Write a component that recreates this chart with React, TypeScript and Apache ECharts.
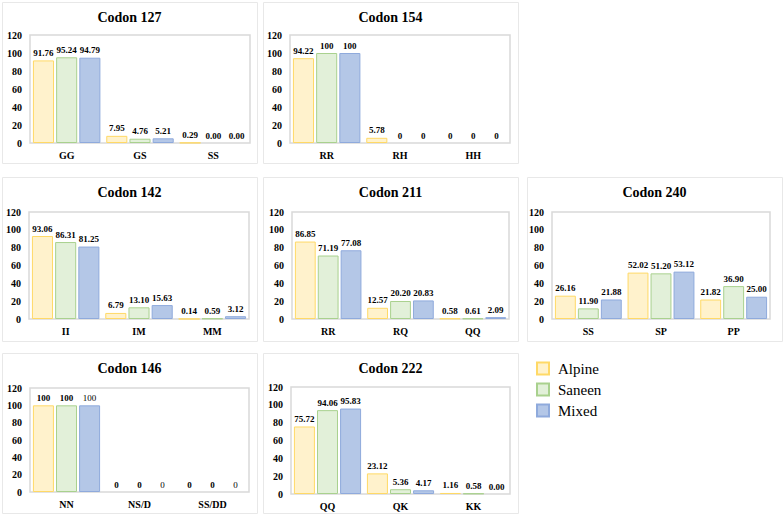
import React, { useEffect, useRef } from "react";
import * as echarts from "echarts";

// ---- data ----
const seriesNames = ["Alpine", "Saneen", "Mixed"];
const yTicks = [0, 20, 40, 60, 80, 100, 120];

const titles = ["Codon 127", "Codon 154", "Codon 142", "Codon 211", "Codon 240", "Codon 146", "Codon 222"];

const cat127 = ["GG", "GS", "SS"];
const alpine127 = [91.76, 7.95, 0.29];
const saneen127 = [95.24, 4.76, 0.0];
const mixed127 = [94.79, 5.21, 0.0];

const cat154 = ["RR", "RH", "HH"];
const alpine154 = [94.22, 5.78, 0];
const saneen154 = [100, 0, 0];
const mixed154 = [100, 0, 0];

const cat142 = ["II", "IM", "MM"];
const alpine142 = [93.06, 6.79, 0.14];
const saneen142 = [86.31, 13.1, 0.59];
const mixed142 = [81.25, 15.63, 3.12];

const cat211 = ["RR", "RQ", "QQ"];
const alpine211 = [86.85, 12.57, 0.58];
const saneen211 = [71.19, 20.2, 0.61];
const mixed211 = [77.08, 20.83, 2.09];

const cat240 = ["SS", "SP", "PP"];
const alpine240 = [26.16, 52.02, 21.82];
const saneen240 = [11.9, 51.2, 36.9];
const mixed240 = [21.88, 53.12, 25.0];

const cat146 = ["NN", "NS/D", "SS/DD"];
const alpine146 = [100, 0, 0];
const saneen146 = [100, 0, 0];
const mixed146 = [100, 0, 0];

const cat222 = ["QQ", "QK", "KK"];
const alpine222 = [75.72, 23.12, 1.16];
const saneen222 = [94.06, 5.36, 0.58];
const mixed222 = [95.83, 4.17, 0.0];

// two-decimal label formatting per panel
const fixedDecimals = [true, false, true, true, true, false, true];

const panelCats = [cat127, cat154, cat142, cat211, cat240, cat146, cat222];
const panelValues = [
  [alpine127, saneen127, mixed127],
  [alpine154, saneen154, mixed154],
  [alpine142, saneen142, mixed142],
  [alpine211, saneen211, mixed211],
  [alpine240, saneen240, mixed240],
  [alpine146, saneen146, mixed146],
  [alpine222, saneen222, mixed222],
];

// ---- layout / style ----
const boxes = [
  [2, 2, 257, 163],
  [263, 2, 518, 163],
  [2, 177, 257, 341],
  [263, 177, 518, 341],
  [527, 177, 782, 341],
  [2, 353, 257, 513],
  [263, 353, 518, 513],
];
const plots = [
  [30, 35, 250, 143],
  [290, 35, 510, 143],
  [29, 212, 249, 319],
  [292, 212, 509, 319],
  [552, 212, 770, 319],
  [30, 388, 249, 492],
  [291, 387, 510, 494],
];
const fills = ["#FFF2CC", "#E2F0D9", "#B4C7E7"];
const borders = ["#FFD966", "#A9D18E", "#8FAADC"];
const FONT = "'Liberation Serif', 'Times New Roman', serif";

export default function App() {
  const ref = useRef<HTMLDivElement>(null);
  useEffect(() => {
    document.body.style.margin = "0";
    const chart = echarts.init(ref.current!, null, { renderer: "svg" });
    const grids: any[] = [];
    const xAxes: any[] = [];
    const yAxes: any[] = [];
    const series: any[] = [];
    const graphics: any[] = [];

    plots.forEach((p, i) => {
      const b = boxes[i];
      graphics.push({
        type: "rect",
        shape: { x: b[0] + 0.5, y: b[1] + 0.5, width: b[2] - b[0], height: b[3] - b[1] },
        style: { fill: "none", stroke: "#e8e8e8", lineWidth: 1 },
        z: -10,
      });
      graphics.push({
        type: "text",
        x: (b[0] + b[2]) / 2,
        y: b[1] + 15,
        style: {
          text: titles[i],
          font: `bold 14px ${FONT}`,
          fill: "#000",
          textAlign: "center",
          textVerticalAlign: "middle",
        },
      });
      grids.push({
        left: p[0],
        top: p[1],
        width: p[2] - p[0],
        height: p[3] - p[1],
        show: true,
        borderColor: "#d9d9d9",
        borderWidth: 1.5,
        backgroundColor: "transparent",
        containLabel: false,
      });
      xAxes.push({
        type: "category",
        gridIndex: i,
        data: panelCats[i],
        axisLine: { show: false },
        axisTick: { show: false },
        axisLabel: { fontFamily: FONT, fontWeight: "bold", fontSize: 10, color: "#000", margin: 7 },
      });
      yAxes.push({
        type: "value",
        gridIndex: i,
        min: yTicks[0],
        max: yTicks[yTicks.length - 1],
        interval: yTicks[1] - yTicks[0],
        splitLine: { show: false },
        axisLine: { show: false },
        axisTick: { show: false },
        axisLabel: { fontFamily: FONT, fontWeight: "bold", fontSize: 10, color: "#000", margin: 8 },
      });
      panelValues[i].forEach((vals, s) => {
        series.push({
          type: "bar",
          name: seriesNames[s],
          xAxisIndex: i,
          yAxisIndex: i,
          data: vals.map((v) => (v === 0 ? { value: v, itemStyle: { borderWidth: 0 } } : v)),
          barGap: "10%",
          barCategoryGap: "8%",
          itemStyle: { color: fills[s], borderColor: borders[s], borderWidth: 1 },
          label: {
            show: true,
            position: "top",
            distance: 3,
            fontFamily: FONT,
            fontWeight: i === 5 && s === 2 ? "normal" : "bold",
            fontSize: 9,
            color: "#000",
            formatter: (d: any) => (fixedDecimals[i] ? Number(d.value).toFixed(2) : String(d.value)),
          },
        });
      });
    });

    chart.setOption({
      animation: false,
      backgroundColor: "#fff",
      grid: grids,
      xAxis: xAxes,
      yAxis: yAxes,
      series,
      graphic: graphics,
      legend: {
        data: seriesNames,
        orient: "vertical",
        left: 531,
        top: 356,
        itemWidth: 12,
        itemHeight: 12,
        itemGap: 6,
        icon: "rect",
        textStyle: { fontFamily: FONT, fontSize: 15, color: "#000", padding: [0, 0, 0, 4] },
      },
    });
    return () => chart.dispose();
  }, []);
  return <div ref={ref} style={{ width: 784, height: 517 }} />;
}
